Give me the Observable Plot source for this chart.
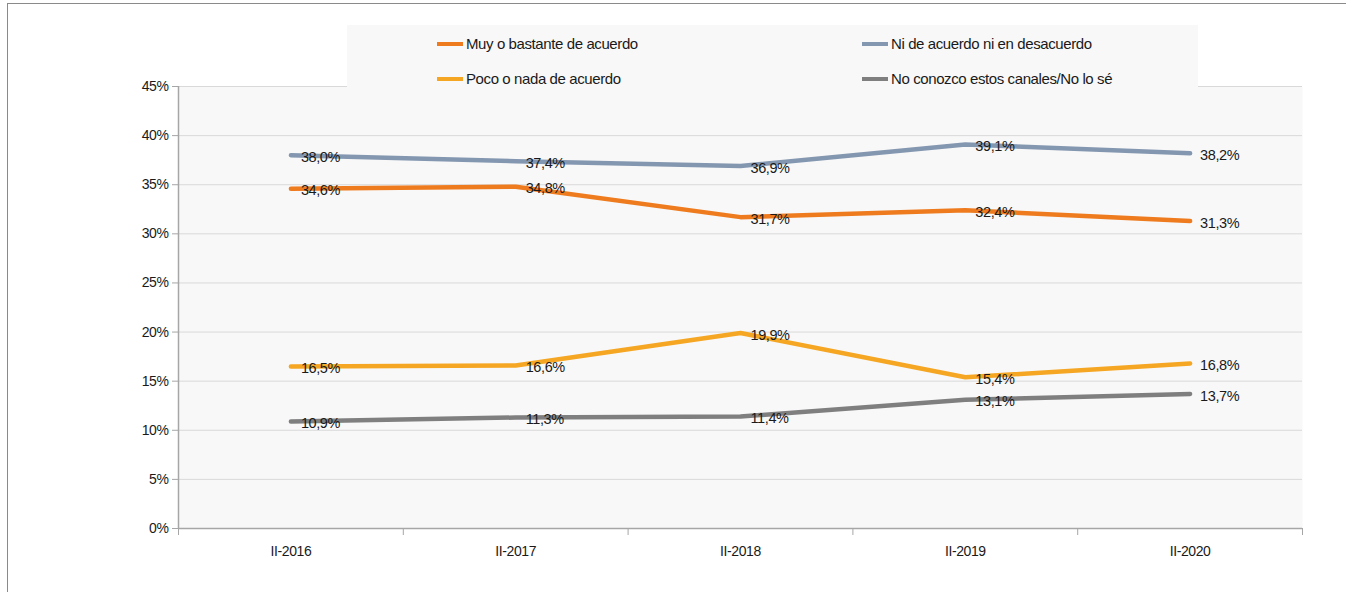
<!DOCTYPE html>
<html>
<head>
<meta charset="utf-8">
<script src="https://cdn.jsdelivr.net/npm/d3@7"></script>
<script src="https://cdn.jsdelivr.net/npm/@observablehq/plot@0.6"></script>
<style>
  html, body { margin: 0; padding: 0; background: #fff; }
  body { width: 1346px; height: 592px; position: relative; overflow: hidden;
         font-family: "Liberation Sans Narrow", "Arial Narrow", "Liberation Sans", sans-serif; }
  #frame { position: absolute; left: 7px; top: 3px; right: -2px; bottom: -2px;
           border-left: 1.5px solid #8a8a8a; border-top: 1.5px solid #8a8a8a; pointer-events: none; }
  #chart { position: absolute; left: 0; top: 0; }
  #chart svg text { letter-spacing: -0.4px; }
  #legend { position: absolute; left: 347px; top: 25px; width: 851px; height: 75px; background: #f8f8f8; }
  .item { position: absolute; display: flex; align-items: center; font-size: 15px; color: #1a1a1a; white-space: nowrap; letter-spacing: -0.4px; }
  .sw { width: 26px; height: 4px; margin-right: 3px; }
</style>
</head>
<body>
<div id="chart"></div>
<div id="legend"></div>
<div id="frame"></div>
<script>
const categories = ["II-2016", "II-2017", "II-2018", "II-2019", "II-2020"];
const seriesNames = [
  "Muy o bastante de acuerdo",
  "Ni de acuerdo ni en desacuerdo",
  "Poco o nada de acuerdo",
  "No conozco estos canales/No lo sé"
];
const muyBastante = [34.6, 34.8, 31.7, 32.4, 31.3];
const niNi = [38.0, 37.4, 36.9, 39.1, 38.2];
const pocoNada = [16.5, 16.6, 19.9, 15.4, 16.8];
const noConozco = [10.9, 11.3, 11.4, 13.1, 13.7];
const yTicks = [0, 5, 10, 15, 20, 25, 30, 35, 40, 45];
const colors = ["#ee7b1e", "#8497b0", "#f5a623", "#7f7f7f"];

const seriesValues = [muyBastante, niNi, pocoNada, noConozco];
const data = [];
seriesNames.forEach((s, si) => {
  seriesValues[si].forEach((v, i) => data.push({series: s, i, cat: categories[i], value: v}));
});
const fmt = v => v.toFixed(1).replace(".", ",") + "%";
const idx = categories.map((_, i) => i);
const bounds = categories.map((_, i) => i - 0.5).concat([categories.length - 0.5]);

const plot = Plot.plot({
  width: 1346,
  height: 592,
  marginLeft: 178,
  marginRight: 44,
  marginTop: 86,
  marginBottom: 64,
  style: {fontFamily: '"Liberation Sans Narrow", "Arial Narrow", "Liberation Sans", sans-serif', fontSize: "14px", color: "#1a1a1a", background: "transparent"},
  x: {type: "linear", domain: [-0.5, categories.length - 0.5]},
  y: {domain: [0, 45]},
  color: {domain: seriesNames, range: colors},
  marks: [
    Plot.frame({fill: "#f8f8f8", stroke: null}),
    Plot.gridY(yTicks, {stroke: "#d9d9d9", strokeOpacity: 1, strokeWidth: 1}),
    Plot.axisY(yTicks, {tickFormat: d => d + "%", tickSize: 6, tickPadding: 4, stroke: "#a6a6a6", fontSize: 14, fill: "#1a1a1a", label: null}),
    Plot.axisX(bounds, {tickFormat: () => "", tickSize: 7, stroke: "#a6a6a6", label: null}),
    Plot.axisX(idx, {tickFormat: i => categories[i], tickSize: 0, tickPadding: 18, fontSize: 14, fill: "#1a1a1a", label: null}),
    Plot.ruleX([-0.5], {stroke: "#a6a6a6", strokeWidth: 1.5}),
    Plot.ruleY([0], {stroke: "#a6a6a6", strokeWidth: 1.5}),
    Plot.line(data, {x: "i", y: "value", z: "series", stroke: "series", strokeWidth: 4.5, curve: "linear"}),
    Plot.text(data, {x: "i", y: "value", text: d => fmt(d.value), textAnchor: "start", dx: 10, dy: 2, fontSize: 14.5, fill: "#1a1a1a"})
  ]
});
document.getElementById("chart").appendChild(plot);

const legend = document.getElementById("legend");
const pos = [[90, 20], [515, 20], [90, 55], [515, 55]];
const order = [0, 1, 2, 3];
order.forEach((si, k) => {
  const it = document.createElement("div");
  it.className = "item";
  it.style.left = pos[k][0] + "px";
  it.style.top = (pos[k][1] - 10) + "px";
  const sw = document.createElement("div");
  sw.className = "sw";
  sw.style.background = colors[si];
  const tx = document.createElement("span");
  tx.textContent = seriesNames[si];
  it.appendChild(sw);
  it.appendChild(tx);
  legend.appendChild(it);
});
</script>
</body>
</html>
